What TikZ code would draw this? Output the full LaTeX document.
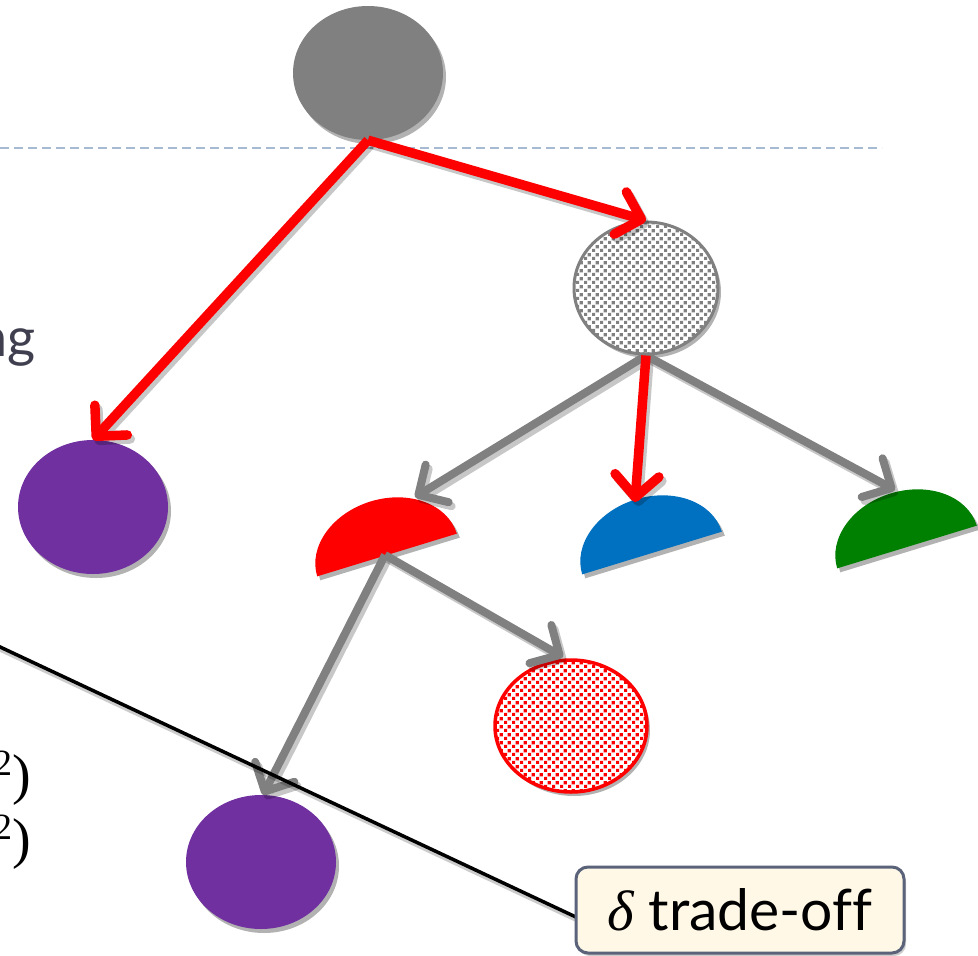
\documentclass[tikz,border=0pt]{standalone}
\usepackage{fontspec}
\setmainfont{Lato}[Ligatures=NoCommon]
\newfontfamily\serifgr{Liberation Serif}
\usetikzlibrary{arrows.meta,shapes.geometric,shadows,patterns}
\definecolor{midgray}{HTML}{808080}
\definecolor{purp}{HTML}{7030A0}
\definecolor{bluefill}{HTML}{0070C0}
\definecolor{greenfill}{HTML}{008000}
\definecolor{dashblue}{HTML}{A6BBD3}
\definecolor{boxedge}{HTML}{5A6379}
\definecolor{boxfill}{HTML}{FFF8E6}
\definecolor{slatetext}{HTML}{3F3F4F}
\pgfdeclarepatternformonly{checks}{\pgfqpoint{0pt}{0pt}}{\pgfqpoint{8pt}{8pt}}{\pgfqpoint{8pt}{8pt}}{%
  \pgfpathrectangle{\pgfqpoint{0pt}{0pt}}{\pgfqpoint{3.6pt}{3.6pt}}%
  \pgfpathrectangle{\pgfqpoint{4pt}{4pt}}{\pgfqpoint{3.6pt}{3.6pt}}%
  \pgfusepath{fill}}
\begin{document}
\begin{tikzpicture}[x=1pt,y=-1pt,
  softshadow/.style={drop shadow={shadow xshift=3pt, shadow yshift=-4pt, opacity=0.3, fill=black}},
  blob/.style={ellipse, minimum width=150pt, minimum height=134pt, inner sep=0pt, draw=none, softshadow},
  tip/.style={-{Straight Barb[length=22pt, width=44pt, round]}},
  redarrow/.style={draw=red, line width=9.5pt, tip},
  grayarrow/.style={draw=midgray, line width=8pt, tip},
  arrowshadow/.style={draw=black, opacity=0.22, transform canvas={xshift=3pt, yshift=-4pt}},
  dashline/.style={draw=dashblue, line width=2pt, dash pattern=on 9pt off 5pt},
  blackline/.style={draw=black, line width=3.5pt},
  tradebox/.style={draw=boxedge, line width=3pt, fill=boxfill, rounded corners=12pt,
     minimum width=328pt, minimum height=86pt, inner sep=0pt, font=\fontsize{57}{64}\selectfont,
     drop shadow={shadow xshift=2pt, shadow yshift=-3pt, opacity=0.2, fill=black}},
  sidetext/.style={inner sep=0pt, anchor=base east}
]
\useasboundingbox[fill=white] (0,0) rectangle (978,956);

% dashed separator
\draw[dashline] (0,148) -- (882,148);

% round nodes
\node[blob, fill=midgray] (top) at (368,73) {};
\node[blob, fill=purp] (lp) at (93,507) {};
\node[blob, minimum width=144pt, minimum height=132pt, draw=midgray, line width=3pt, fill=white,
      postaction={pattern=checks, pattern color=midgray}] (pg) at (646,288) {};
\node[blob, minimum width=152pt, minimum height=132pt, draw=red, line width=3.5pt, fill=white,
      postaction={pattern=checks, pattern color=red}] (rp) at (571,726) {};
\node[blob, fill=purp] (bp) at (261,862) {};

% half disks
\begin{scope}[shift={(387,555)}, rotate=17, x=1pt, y=1pt]
  \fill[red, softshadow] (73,0) arc[start angle=0, end angle=180, x radius=73pt, y radius=56pt] -- cycle;
\end{scope}
\begin{scope}[shift={(652,553)}, rotate=17, x=1pt, y=1pt]
  \fill[bluefill, softshadow] (73,0) arc[start angle=0, end angle=180, x radius=73pt, y radius=56pt] -- cycle;
\end{scope}
\begin{scope}[shift={(907,547)}, rotate=17, x=1pt, y=1pt]
  \fill[greenfill, softshadow] (73,0) arc[start angle=0, end angle=180, x radius=73pt, y radius=56pt] -- cycle;
\end{scope}

\coordinate (redmid) at (385,555);
\coordinate (redtop) at (415,497);
\coordinate (bluetop) at (635,502);
\coordinate (greentop) at (895,490);
\coordinate (rptop) at (563,657);
\coordinate (bptop) at (263,795);

% arrow shadows
\draw[grayarrow, arrowshadow] (pg.south) -- (redtop);
\draw[grayarrow, arrowshadow] (pg.south) -- (greentop);
\draw[grayarrow, arrowshadow] (redmid) -- (rptop);
\draw[grayarrow, arrowshadow] (redmid) -- (bptop);
\draw[redarrow, arrowshadow] (top.south) -- (lp.north);
\draw[redarrow, arrowshadow] (top.south) -- (pg.north);
\draw[redarrow, arrowshadow] (pg.south) -- (bluetop);

% arrows
\draw[grayarrow] (pg.south) -- (redtop);
\draw[grayarrow] (pg.south) -- (greentop);
\draw[grayarrow] (redmid) -- (rptop);
\draw[grayarrow] (redmid) -- (bptop);
\draw[redarrow] (top.south) -- (lp.north);
\draw[redarrow] (top.south) -- (pg.north);
\draw[redarrow] (pg.south) -- (bluetop);

% black line to the box
\coordinate (ls) at (-2,646);
\coordinate (le) at (578,918);
\draw[blackline, draw=black, opacity=0.2, transform canvas={xshift=2pt, yshift=-4pt}] (ls) -- (le);
\draw[blackline] (ls) -- (le);

\node[tradebox] (tb) at (740,910) {{\serifgr\itshape δ}\ trade-off};

% texts cut by the left edge, as in the reference
\node[sidetext, text=slatetext, font=\fontsize{54}{60}\selectfont] (ng) at (36,356) {ng};
\node[sidetext, font=\serifgr\fontsize{56}{60}\selectfont] (sq1) at (31,793) {\raisebox{18pt}{\fontsize{37}{40}\selectfont 2})};
\node[sidetext, font=\serifgr\fontsize{56}{60}\selectfont] (sq2) at (31,857) {\raisebox{18pt}{\fontsize{37}{40}\selectfont 2})};
\end{tikzpicture}
\end{document}
